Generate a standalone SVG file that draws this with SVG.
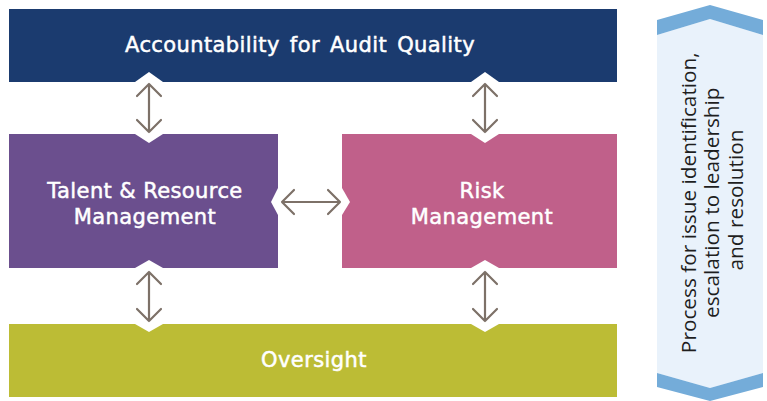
<svg xmlns="http://www.w3.org/2000/svg" width="767" height="401" viewBox="0 0 767 401">
<style>
.lbl{font-family:"DejaVu Sans","Liberation Sans",sans-serif;font-size:21px;fill:#ffffff;stroke:#ffffff;stroke-width:0.5;text-anchor:middle;letter-spacing:0.4px}
.side{font-family:"Open Sans","Liberation Sans",sans-serif;font-size:20.8px;fill:#1e1e1e;text-anchor:middle}
.arr{fill:none;stroke:#7d7168;stroke-width:2.2;stroke-linecap:round;stroke-linejoin:round}
.notch{fill:#ffffff}
</style>
<rect width="767" height="401" fill="#ffffff"/>
<g id="accountability">
<rect x="9" y="9" width="608" height="73" fill="#1b3b6f"/>
<text class="lbl" x="300" y="52" letter-spacing="0.65" word-spacing="3">Accountability for Audit Quality</text>
</g>
<g id="talent">
<rect x="9" y="134" width="269" height="134" fill="#6b4f8e"/>
<text class="lbl" x="145" y="198">Talent &amp; Resource</text>
<text class="lbl" x="145" y="224">Management</text>
</g>
<g id="risk">
<rect x="342" y="134" width="275" height="134" fill="#c0608a"/>
<text class="lbl" x="482" y="198">Risk</text>
<text class="lbl" x="482" y="224">Management</text>
</g>
<g id="oversight">
<rect x="9" y="324" width="608" height="73" fill="#bcbc35"/>
<text class="lbl" x="314" y="367">Oversight</text>
</g>
<g id="process">
<polygon points="657,35 710,19 763,35 763,373 710,388 657,373" fill="#e9f2fb"/>
<polygon points="657,20 710,5 763,20 763,35 710,19 657,35" fill="#74acd9"/>
<polygon points="657,373 710,388 763,373 763,387 710,401 657,387" fill="#74acd9"/>
<text class="side" transform="translate(710,200) rotate(-90)">
<tspan x="0" y="-14">Process for issue identification,</tspan>
<tspan x="0" y="9">escalation to leadership</tspan>
<tspan x="0" y="33">and resolution</tspan>
</text>
</g>
<g id="connectors">
<polygon class="notch" points="149,72 163,82 163,134 149,143 135,134 135,82"/>
<polygon class="notch" points="485,72 499,82 499,134 485,143 471,134 471,82"/>
<polygon class="notch" points="149,260 163,268 163,324 149,332 135,324 135,268"/>
<polygon class="notch" points="485,260 499,268 499,324 485,332 471,324 471,268"/>
<polygon class="notch" points="271,202 278,188 342,188 350,202 342,215 278,215"/>
<path class="arr" d="M149,84 V132 M137,96 L149,84 L161,96 M137,120 L149,132 L161,120"/>
<path class="arr" d="M485,84 V132 M473,96 L485,84 L497,96 M473,120 L485,132 L497,120"/>
<path class="arr" d="M149,272 V321 M137,284 L149,272 L161,284 M137,309 L149,321 L161,309"/>
<path class="arr" d="M485,272 V321 M473,284 L485,272 L497,284 M473,309 L485,321 L497,309"/>
<path class="arr" d="M282,202 H340 M294,190 L282,202 L294,214 M328,190 L340,202 L328,214"/>
</g>
</svg>
